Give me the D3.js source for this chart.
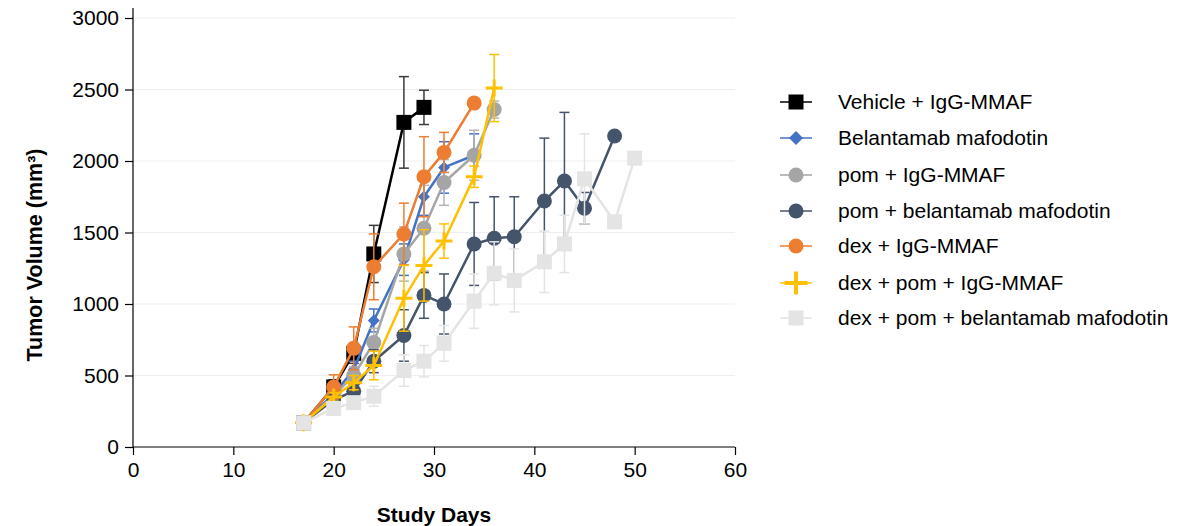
<!DOCTYPE html>
<html>
<head>
<meta charset="utf-8">
<script src="https://cdn.jsdelivr.net/npm/d3@7"></script>
<style>
  html, body { margin: 0; padding: 0; background: #fff; }
  svg text { font-family: "Liberation Sans", Arial, sans-serif; fill: #000; }
</style>
</head>
<body>
<svg id="chart" width="1193" height="526"></svg>
<script>
// Tumor volume (mean ± SEM) by study day for each treatment group
const seriesNames = [
  "Vehicle + IgG-MMAF",
  "Belantamab mafodotin",
  "pom + IgG-MMAF",
  "pom + belantamab mafodotin",
  "dex + IgG-MMAF",
  "dex + pom + IgG-MMAF",
  "dex + pom + belantamab mafodotin"
];

const vehicleDays = [17, 20, 22, 24, 27, 29];
const vehicleVol  = [170, 420, 655, 1350, 2270, 2375];
const vehicleSem  = [20, 50, 70, 200, 320, 120];

const belDays = [17, 20, 22, 24, 27, 29, 31, 34];
const belVol  = [170, 370, 540, 885, 1310, 1750, 1955, 2040];
const belSem  = [20, 40, 60, 80, 110, 130, 180, 150];

const pomIggDays = [17, 20, 22, 24, 27, 29, 31, 34, 36];
const pomIggVol  = [170, 360, 500, 730, 1350, 1530, 1850, 2040, 2360];
const pomIggSem  = [20, 40, 60, 100, 190, 300, 160, 175, 60];

const pomBelDays = [17, 20, 22, 24, 27, 29, 31, 34, 36, 38, 41, 43, 45, 48];
const pomBelVol  = [170, 330, 390, 600, 780, 1060, 1000, 1420, 1460, 1470, 1720, 1860, 1670, 2175];
const pomBelSem  = [20, 30, 50, 80, 180, 160, 210, 290, 290, 280, 440, 480, 110, 0];

const dexIggDays = [17, 20, 22, 24, 27, 29, 31, 34];
const dexIggVol  = [170, 420, 690, 1260, 1490, 1890, 2060, 2405];
const dexIggSem  = [20, 85, 150, 230, 215, 280, 140, 0];

const dexPomIggDays = [17, 20, 22, 24, 27, 29, 31, 34, 36];
const dexPomIggVol  = [170, 350, 450, 570, 1040, 1270, 1440, 1890, 2510];
const dexPomIggSem  = [20, 30, 50, 100, 230, 250, 120, 75, 235];

const dexPomBelDays = [17, 20, 22, 24, 27, 29, 31, 34, 36, 38, 41, 43, 45, 48, 50];
const dexPomBelVol  = [170, 270, 310, 355, 535, 600, 725, 1020, 1215, 1165, 1295, 1420, 1875, 1575, 2020];
const dexPomBelSem  = [15, 30, 40, 70, 110, 110, 125, 190, 220, 220, 215, 200, 315, 0, 0];

const xTicks = [0, 10, 20, 30, 40, 50, 60];
const yTicks = [0, 500, 1000, 1500, 2000, 2500, 3000];

const colors  = ["#000000", "#4472c4", "#a5a5a5", "#44546a", "#ed7d31", "#ffc000", "#e4e4e4"];
const barColors = ["#3a3a3a", "#4472c4", "#b5b5b5", "#44546a", "#ed7d31", "#ffc000", "#e4e4e4"];
const shapes  = ["square", "diamond", "circle", "circle", "circle", "cross", "square"];

const groups = [
  [vehicleDays, vehicleVol, vehicleSem],
  [belDays, belVol, belSem],
  [pomIggDays, pomIggVol, pomIggSem],
  [pomBelDays, pomBelVol, pomBelSem],
  [dexIggDays, dexIggVol, dexIggSem],
  [dexPomIggDays, dexPomIggVol, dexPomIggSem],
  [dexPomBelDays, dexPomBelVol, dexPomBelSem]
].map(([d, v, s], i) => ({
  name: seriesNames[i],
  color: colors[i],
  barColor: barColors[i],
  shape: shapes[i],
  points: d.map((day, j) => ({ day, vol: v[j], sem: s[j] }))
}));

const svg = d3.select("#chart");
const margin = { left: 133, top: 18, right: 458, bottom: 79 };
const W = 1193, H = 526;

const x = d3.scaleLinear().domain([0, 60]).range([margin.left, W - margin.right]);
const y = d3.scaleLinear().domain([0, 3000]).range([H - margin.bottom, margin.top]);

// horizontal gridlines
svg.append("g")
  .selectAll("line")
  .data(yTicks.filter(t => t > 0))
  .join("line")
  .attr("x1", x(0)).attr("x2", x(60))
  .attr("y1", d => y(d)).attr("y2", d => y(d))
  .attr("stroke", "#efefef").attr("stroke-width", 1.2);

// axes
const xAxis = svg.append("g")
  .attr("transform", `translate(0,${y(0)})`)
  .call(d3.axisBottom(x).tickValues(xTicks).tickFormat(d3.format("d")).tickSize(8).tickPadding(7));
const yAxis = svg.append("g")
  .attr("transform", `translate(${x(0)},0)`)
  .call(d3.axisLeft(y).tickValues(yTicks).tickFormat(d3.format("d")).tickSize(8).tickPadding(6));

[xAxis, yAxis].forEach(a => {
  a.select(".domain").remove();
  a.selectAll(".tick line").attr("stroke", "#000").attr("stroke-width", 1.2);
  a.selectAll(".tick text")
    .attr("font-size", 21)
    .attr("font-family", "'Liberation Sans', Arial, sans-serif")
    .attr("fill", "#000");
});
// axis lines
svg.append("line")
  .attr("x1", x(0)).attr("x2", x(60))
  .attr("y1", y(0)).attr("y2", y(0))
  .attr("stroke", "#000").attr("stroke-width", 1.2);
svg.append("line")
  .attr("x1", x(0)).attr("x2", x(0))
  .attr("y1", y(0)).attr("y2", y(3000) - 10)
  .attr("stroke", "#000").attr("stroke-width", 1.2);

// axis titles
svg.append("text")
  .attr("x", (x(0) + x(60)) / 2).attr("y", 522)
  .attr("text-anchor", "middle")
  .attr("font-size", 21).attr("font-weight", "bold")
  .text("Study Days");
svg.append("text")
  .attr("transform", `translate(42,255) rotate(-90)`)
  .attr("text-anchor", "middle")
  .attr("font-size", 21.5).attr("font-weight", "bold")
  .text("Tumor Volume (mm³)");

// marker drawing
function drawMarker(g, shape, color, cx, cy, legendSize) {
  if (shape === "square") {
    const h = 7.5;
    g.append("rect").attr("x", cx - h).attr("y", cy - h)
      .attr("width", 2 * h).attr("height", 2 * h).attr("fill", color);
  } else if (shape === "circle") {
    g.append("circle").attr("cx", cx).attr("cy", cy).attr("r", 7.5).attr("fill", color);
  } else if (shape === "diamond") {
    const h = legendSize ? 7 : 6;
    g.append("path")
      .attr("d", `M${cx},${cy - h}L${cx + h},${cy}L${cx},${cy + h}L${cx - h},${cy}Z`)
      .attr("fill", color);
  } else if (shape === "cross") {
    const h = legendSize ? 11.5 : 8.5;
    g.append("path")
      .attr("d", `M${cx - h},${cy}L${cx + h},${cy}M${cx},${cy - h}L${cx},${cy + h}`)
      .attr("stroke", color).attr("stroke-width", legendSize ? 4 : 3).attr("fill", "none");
  }
}

const line = d3.line().x(d => x(d.day)).y(d => y(d.vol));

groups.forEach(gr => {
  const g = svg.append("g");
  // error bars
  gr.points.filter(p => p.sem > 0).forEach(p => {
    const px = x(p.day), top = y(p.vol + p.sem), bot = y(p.vol - p.sem);
    g.append("line").attr("x1", px).attr("x2", px).attr("y1", top).attr("y2", bot)
      .attr("stroke", gr.barColor).attr("stroke-width", 1.5);
    [top, bot].forEach(yy => {
      g.append("line").attr("x1", px - 5).attr("x2", px + 5).attr("y1", yy).attr("y2", yy)
        .attr("stroke", gr.barColor).attr("stroke-width", 1.5);
    });
  });
  g.append("path").datum(gr.points)
    .attr("d", line).attr("fill", "none")
    .attr("stroke", gr.color).attr("stroke-width", 2.5);
  gr.points.forEach(p => drawMarker(g, gr.shape, gr.color, x(p.day), y(p.vol), false));
});

// legend
const legend = svg.append("g");
const legendY = [102, 138, 175, 211, 246, 283, 318];
groups.forEach((gr, i) => {
  const ly = legendY[i];
  legend.append("line").attr("x1", 780).attr("x2", 812).attr("y1", ly).attr("y2", ly)
    .attr("stroke", gr.color).attr("stroke-width", 1.5);
  drawMarker(legend, gr.shape, gr.color, 796, ly, true);
  legend.append("text").attr("x", 838).attr("y", ly).attr("dy", "0.35em")
    .attr("font-size", 21)
    .text(gr.name);
});
</script>
</body>
</html>
